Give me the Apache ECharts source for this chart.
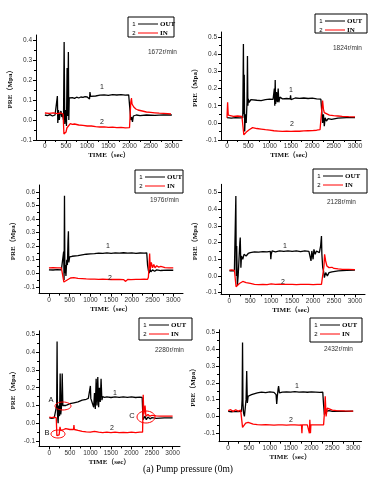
<!DOCTYPE html>
<html>
<head>
<meta charset="utf-8">
<script src="https://cdn.jsdelivr.net/npm/echarts@6/dist/echarts.min.js"></script>
<style>
  html, body { margin: 0; padding: 0; background: #fff; }
  #chart { width: 387px; height: 480px; }
</style>
</head>
<body>
<div id="chart"></div>
<script>
// tick labels
const xTicks = [0, 500, 1000, 1500, 2000, 2500, 3000]
const xMinor = [250, 750, 1250, 1750, 2250, 2750]
const yTicks4 = [-0.1, 0, 0.1, 0.2, 0.3, 0.4]
const yTicks5 = [-0.1, 0, 0.1, 0.2, 0.3, 0.4, 0.5]
const yTicks6 = [-0.1, 0, 0.1, 0.2, 0.3, 0.4, 0.5, 0.6]
const yMinor4 = [-0.05, 0.05, 0.15, 0.25, 0.35]
const yMinor5 = [-0.05, 0.05, 0.15, 0.25, 0.35, 0.45]
const yMinor6 = [-0.05, 0.05, 0.15, 0.25, 0.35, 0.45, 0.55]
const speeds = ['1672r/min', '1824r/min', '1976r/min', '2128r/min', '2280r/min', '2432r/min']

// [time(sec), pressure(Mpa)]
const out1672 = [[0,0.025],[60,0.022],[120,0.027],[180,0.02],[240,0.025],[280,0.018],[295,0.12],[305,-0.015],[320,0.05],[340,0.0],[360,0.03],[380,0.045],[400,0.015],[420,0.03],[440,0.0],[455,0.39],[470,-0.02],[490,0.05],[510,-0.03],[525,0.26],[540,0.02],[555,0.34],[565,0.0],[575,0.11],[600,0.105],[650,0.112],[700,0.108],[750,0.114],[800,0.11],[850,0.115],[900,0.113],[950,0.117],[1000,0.115],[1040,0.12],[1055,0.105],[1065,0.14],[1080,0.118],[1120,0.122],[1200,0.12],[1300,0.124],[1400,0.126],[1500,0.123],[1600,0.127],[1700,0.125],[1800,0.127],[1900,0.124],[1980,0.126],[2020,0.124],[2030,0.0],[2050,0.015],[2070,-0.01],[2090,0.02],[2120,0.01],[2160,0.025],[2250,0.022],[2400,0.025],[2600,0.023],[2800,0.026],[3000,0.025]]
const in1672 = [[0,0.035],[100,0.033],[200,0.036],[300,0.032],[380,0.035],[430,0.03],[450,-0.07],[480,-0.065],[500,-0.06],[520,-0.04],[560,-0.035],[600,-0.018],[650,-0.022],[700,-0.02],[800,-0.025],[900,-0.027],[1000,-0.03],[1100,-0.03],[1200,-0.033],[1300,-0.035],[1400,-0.034],[1500,-0.037],[1600,-0.036],[1700,-0.038],[1800,-0.037],[1900,-0.039],[2000,-0.038],[2020,-0.04],[2030,0.09],[2045,0.11],[2060,0.08],[2100,0.065],[2150,0.055],[2200,0.05],[2300,0.045],[2400,0.04],[2500,0.038],[2600,0.036],[2700,0.034],[2800,0.033],[2900,0.032],[2980,0.03]]

const out1824 = [[0,0.03],[100,0.028],[200,0.03],[300,0.029],[370,0.03],[385,0.46],[395,0.05],[405,0.28],[415,-0.05],[430,0.05],[450,0.0],[470,0.12],[480,0.39],[490,0.1],[500,0.14],[520,0.12],[560,0.135],[600,0.128],[700,0.132],[800,0.13],[900,0.135],[1000,0.138],[1080,0.137],[1110,0.2],[1120,0.1],[1130,0.25],[1140,0.11],[1160,0.18],[1180,0.12],[1200,0.2],[1215,0.12],[1240,0.15],[1300,0.14],[1400,0.142],[1480,0.14],[1490,0.16],[1500,0.135],[1600,0.145],[1700,0.143],[1800,0.145],[1900,0.142],[2000,0.144],[2100,0.14],[2200,0.138],[2220,0.13],[2240,0.0],[2260,0.05],[2280,-0.02],[2300,0.03],[2330,0.01],[2370,0.025],[2450,0.02],[2600,0.028],[2800,0.03],[3000,0.03]]
const in1824 = [[0,0.03],[15,0.12],[30,0.045],[60,0.04],[150,0.038],[250,0.04],[350,0.038],[380,0.035],[395,-0.07],[430,-0.065],[470,-0.05],[520,-0.04],[560,-0.03],[600,-0.028],[700,-0.033],[800,-0.036],[900,-0.04],[1000,-0.043],[1100,-0.046],[1200,-0.048],[1300,-0.05],[1400,-0.049],[1500,-0.05],[1600,-0.048],[1700,-0.049],[1800,-0.047],[1900,-0.046],[2000,-0.045],[2100,-0.043],[2180,-0.04],[2220,-0.035],[2240,0.13],[2260,0.08],[2280,0.06],[2320,0.05],[2400,0.045],[2500,0.042],[2600,0.04],[2700,0.038],[2850,0.036],[3000,0.035]]

const out1976 = [[0,0.025],[100,0.024],[200,0.026],[300,0.025],[340,0.03],[355,0.16],[365,-0.05],[375,0.57],[385,0.0],[395,0.06],[410,-0.02],[430,0.1],[445,0.06],[460,0.24],[470,0.31],[480,0.08],[500,0.12],[530,0.11],[560,0.125],[600,0.12],[700,0.13],[800,0.135],[900,0.14],[1000,0.143],[1100,0.145],[1200,0.148],[1300,0.146],[1400,0.15],[1500,0.147],[1600,0.15],[1700,0.148],[1800,0.151],[1900,0.148],[2000,0.15],[2100,0.147],[2200,0.149],[2300,0.148],[2360,0.15],[2380,0.06],[2400,0.02],[2420,0.0],[2440,0.03],[2460,0.01],[2500,0.025],[2550,0.015],[2600,0.025],[2700,0.02],[2850,0.023],[3000,0.022]]
const in1976 = [[0,0.04],[100,0.041],[200,0.039],[300,0.04],[340,0.038],[360,-0.065],[400,-0.06],[440,-0.05],[480,-0.04],[520,-0.035],[600,-0.033],[700,-0.038],[800,-0.04],[900,-0.042],[1000,-0.043],[1100,-0.044],[1200,-0.045],[1300,-0.044],[1400,-0.045],[1500,-0.046],[1510,-0.06],[1520,-0.045],[1600,-0.046],[1700,-0.045],[1800,-0.047],[1850,-0.06],[1860,-0.046],[1900,-0.046],[1980,-0.047],[2000,-0.055],[2010,-0.046],[2100,-0.045],[2200,-0.045],[2300,-0.044],[2380,-0.045],[2400,-0.03],[2430,0.145],[2445,0.03],[2470,0.08],[2500,0.04],[2530,0.065],[2560,0.04],[2600,0.055],[2650,0.045],[2700,0.05],[2800,0.042],[2900,0.04],[3000,0.04]]

const out2128 = [[0,0.03],[60,0.032],[120,0.03],[140,0.04],[155,0.48],[165,0.0],[175,0.18],[190,-0.06],[210,0.0],[230,0.1],[250,0.2],[260,0.23],[275,0.05],[290,0.12],[320,0.1],[350,0.13],[400,0.12],[450,0.135],[500,0.14],[600,0.145],[700,0.143],[800,0.146],[900,0.145],[980,0.147],[990,0.1],[1000,0.13],[1020,0.15],[1100,0.145],[1200,0.15],[1300,0.147],[1400,0.15],[1500,0.148],[1600,0.15],[1700,0.146],[1800,0.15],[1900,0.148],[1950,0.09],[1970,0.15],[2000,0.1],[2020,0.16],[2050,0.13],[2080,0.15],[2120,0.16],[2150,0.14],[2180,0.18],[2200,0.24],[2210,0.13],[2230,0.05],[2250,0.03],[2270,-0.01],[2300,0.02],[2340,0.0],[2380,0.02],[2450,0.025],[2600,0.03],[2800,0.033],[3000,0.035]]
const in2128 = [[0,0.035],[60,0.036],[120,0.034],[140,0.03],[160,-0.065],[200,-0.06],[240,-0.045],[280,-0.035],[320,-0.033],[400,-0.04],[500,-0.045],[600,-0.05],[700,-0.052],[800,-0.05],[900,-0.052],[1000,-0.048],[1100,-0.05],[1200,-0.049],[1300,-0.05],[1400,-0.051],[1500,-0.05],[1600,-0.052],[1700,-0.05],[1800,-0.051],[1900,-0.05],[2000,-0.052],[2100,-0.05],[2200,-0.05],[2240,-0.045],[2260,0.06],[2275,0.13],[2300,0.09],[2330,0.06],[2380,0.05],[2450,0.052],[2500,0.045],[2600,0.042],[2700,0.04],[2850,0.04],[3000,0.038]]

const out2280 = [[0,0.03],[60,0.028],[120,0.03],[160,0.03],[180,0.1],[190,0.46],[200,0.05],[215,0.0],[230,0.1],[250,0.04],[265,0.28],[280,0.05],[300,0.1],[315,0.28],[330,0.1],[360,0.095],[400,0.1],[450,0.105],[500,0.11],[600,0.115],[700,0.12],[800,0.13],[900,0.135],[950,0.14],[1000,0.21],[1010,0.14],[1050,0.13],[1080,0.09],[1100,0.17],[1120,0.08],[1140,0.25],[1160,0.1],[1180,0.26],[1200,0.09],[1220,0.2],[1240,0.12],[1260,0.25],[1280,0.13],[1300,0.15],[1350,0.145],[1400,0.148],[1500,0.145],[1600,0.148],[1700,0.146],[1800,0.149],[1900,0.146],[2000,0.148],[2100,0.145],[2200,0.147],[2260,0.145],[2280,0.02],[2300,0.01],[2330,0.04],[2360,0.02],[2400,0.035],[2450,0.025],[2500,0.032],[2600,0.028],[2800,0.03],[3000,0.03]]
const in2280 = [[0,0.035],[60,0.032],[120,0.035],[170,0.03],[185,-0.07],[210,-0.06],[240,-0.065],[260,-0.02],[280,-0.04],[300,-0.03],[350,-0.035],[400,-0.03],[500,-0.035],[590,-0.035],[600,-0.01],[610,-0.035],[700,-0.04],[800,-0.045],[900,-0.048],[1000,-0.05],[1100,-0.045],[1200,-0.05],[1300,-0.052],[1400,-0.05],[1500,-0.052],[1600,-0.05],[1700,-0.052],[1800,-0.051],[1900,-0.052],[2000,-0.05],[2100,-0.052],[2200,-0.05],[2270,-0.05],[2285,0.16],[2300,0.05],[2330,0.1],[2350,0.04],[2400,0.05],[2450,0.04],[2500,0.045],[2600,0.042],[2700,0.04],[2850,0.04],[3000,0.04]]

const out2432 = [[0,0.03],[80,0.028],[160,0.03],[240,0.029],[320,0.03],[335,0.1],[345,0.44],[355,0.08],[370,0.02],[390,0.0],[410,0.05],[430,0.1],[445,0.27],[460,0.08],[480,0.12],[520,0.11],[560,0.13],[600,0.135],[700,0.14],[800,0.145],[900,0.142],[1000,0.146],[1100,0.143],[1150,0.13],[1165,0.075],[1180,0.12],[1200,0.165],[1210,0.18],[1230,0.14],[1300,0.145],[1400,0.146],[1500,0.145],[1600,0.147],[1700,0.145],[1800,0.146],[1900,0.144],[2000,0.146],[2100,0.145],[2200,0.143],[2270,0.145],[2290,0.07],[2310,0.01],[2330,0.0],[2350,0.03],[2380,0.02],[2420,0.035],[2500,0.03],[2600,0.032],[2800,0.03],[3000,0.032]]
const in2432 = [[0,0.035],[60,0.04],[120,0.03],[180,0.04],[240,0.032],[300,0.038],[330,0.03],[345,-0.065],[380,-0.06],[420,-0.04],[450,-0.03],[480,-0.035],[520,-0.04],[600,-0.045],[700,-0.048],[800,-0.05],[900,-0.049],[1000,-0.05],[1100,-0.051],[1200,-0.05],[1300,-0.05],[1400,-0.051],[1500,-0.05],[1600,-0.05],[1700,-0.051],[1760,-0.05],[1770,-0.1],[1780,-0.05],[1900,-0.05],[1940,-0.05],[1950,-0.1],[1960,-0.02],[1975,-0.1],[1985,-0.05],[2100,-0.05],[2200,-0.05],[2290,-0.05],[2310,0.02],[2330,0.12],[2350,0.0],[2380,0.05],[2420,0.04],[2500,0.038],[2600,0.035],[2800,0.033],[3000,0.032]]

const outData = [out1672, out1824, out1976, out2128, out2280, out2432]
const inData = [in1672, in1824, in1976, in2128, in2280, in2432]

// panel layout (px) and axis ranges
const panels = [
  {left: 36, top: 35, width: 146, height: 105, xMin: -210, xMax: 3240, yMin: -0.1, yMax: 0.425, yT: yTicks4, yM: yMinor4,
    legend: [128, 17, 46, 20], speed: [148, 52], l1: [102, 87], l2: [102, 122]},
  {left: 221, top: 32, width: 140, height: 108, xMin: -140, xMax: 3140, yMin: -0.1, yMax: 0.53, yT: yTicks5, yM: yMinor5,
    legend: [315, 14, 52, 19], speed: [333, 48], l1: [291, 90], l2: [292, 124]},
  {left: 39, top: 185, width: 144, height: 108.6, xMin: -240, xMax: 3235, yMin: -0.15, yMax: 0.65, yT: yTicks6, yM: yMinor6,
    legend: [135, 170, 48, 23], speed: [150, 200], l1: [108, 246], l2: [110, 278]},
  {left: 221, top: 184.3, width: 144, height: 110, xMin: -200, xMax: 3240, yMin: -0.11, yMax: 0.55, yT: yTicks5, yM: yMinor5,
    legend: [313, 169, 54, 24], speed: [327, 202], l1: [285, 246], l2: [283, 282]},
  {left: 39, top: 330.8, width: 141, height: 115.6, xMin: -250, xMax: 3180, yMin: -0.13, yMax: 0.52, yT: yTicks5, yM: yMinor5,
    legend: [139, 318, 53, 22], speed: [155, 350], l1: [115, 393], l2: [112, 428]},
  {left: 219, top: 329.8, width: 142.5, height: 111.9, xMin: -220, xMax: 3200, yMin: -0.15, yMax: 0.515, yT: yTicks5, yM: yMinor5,
    legend: [310, 318, 52, 24], speed: [324, 349], l1: [297, 386], l2: [291, 420]}
]

const serif = "'Liberation Serif', 'Noto Sans CJK SC', serif"
const sans = "'Liberation Sans', Arial, sans-serif"

const grid = []
const xAxis = []
const yAxis = []
const series = []
const graphic = []

panels.forEach((p, i) => {
  grid.push({left: p.left, top: p.top, width: p.width, height: p.height})
  // main axes
  xAxis.push({
    type: 'value', gridIndex: i, min: p.xMin, max: p.xMax, position: 'bottom',
    name: 'TIME（sec）', nameLocation: 'middle', nameGap: 12,
    nameTextStyle: {fontFamily: serif, fontWeight: 'bold', fontSize: 7, color: '#111'},
    axisLine: {show: true, onZero: false, lineStyle: {color: '#000', width: 1}},
    axisTick: {show: true, length: 3, customValues: xTicks, lineStyle: {color: '#000'}},
    axisLabel: {customValues: xTicks, margin: 3, fontSize: 6.5, fontFamily: sans, color: '#333', formatter: v => String(v)},
    splitLine: {show: false}
  })
  // minor ticks
  xAxis.push({
    type: 'value', gridIndex: i, min: p.xMin, max: p.xMax, position: 'bottom',
    axisLine: {show: false, onZero: false},
    axisTick: {show: true, length: 2, customValues: xMinor, lineStyle: {color: '#000'}},
    axisLabel: {show: false}, splitLine: {show: false}
  })
  yAxis.push({
    type: 'value', gridIndex: i, min: p.yMin, max: p.yMax, position: 'left',
    name: 'PRE（Mpa）', nameLocation: 'middle', nameGap: 22, nameRotate: 90,
    nameTextStyle: {fontFamily: serif, fontWeight: 'bold', fontSize: 7, color: '#111'},
    axisLine: {show: true, onZero: false, lineStyle: {color: '#000', width: 1}},
    axisTick: {show: true, length: 3, customValues: p.yT, lineStyle: {color: '#000'}},
    axisLabel: {customValues: p.yT, margin: 4, fontSize: 6.5, fontFamily: sans, color: '#333', formatter: v => v.toFixed(1)},
    splitLine: {show: false}
  })
  yAxis.push({
    type: 'value', gridIndex: i, min: p.yMin, max: p.yMax, position: 'left',
    axisLine: {show: false, onZero: false},
    axisTick: {show: true, length: 2, customValues: p.yM, lineStyle: {color: '#000'}},
    axisLabel: {show: false}, splitLine: {show: false}
  })

  series.push({
    name: 'OUT', type: 'line', xAxisIndex: 2 * i, yAxisIndex: 2 * i,
    data: outData[i], showSymbol: false, symbol: 'none',
    lineStyle: {color: '#000', width: 1.3}, z: 2
  })
  series.push({
    name: 'IN', type: 'line', xAxisIndex: 2 * i, yAxisIndex: 2 * i,
    data: inData[i], showSymbol: false, symbol: 'none',
    lineStyle: {color: '#f00', width: 1.3}, z: 3
  })

  // legend box
  const [lx, ly, lw, lh] = p.legend
  graphic.push({type: 'rect', shape: {x: lx, y: ly, width: lw, height: lh}, style: {fill: '#fff', stroke: '#000', lineWidth: 1}, z: 10})
  ;[['1', '#000', 'OUT', 7], ['2', '#f00', 'IN', 16]].forEach(([num, c, txt, dy]) => {
    graphic.push({type: 'text', style: {text: num, x: lx + 6, y: ly + dy, font: '6px ' + sans, fill: '#000', textAlign: 'center', textVerticalAlign: 'middle'}, z: 11})
    graphic.push({type: 'line', shape: {x1: lx + 10, y1: ly + dy, x2: lx + 30, y2: ly + dy}, style: {stroke: c, lineWidth: 1}, z: 11})
    graphic.push({type: 'text', style: {text: txt, x: lx + 32, y: ly + dy, font: 'bold 7px ' + serif, fill: '#000', textAlign: 'left', textVerticalAlign: 'middle'}, z: 11})
  })
  // speed
  graphic.push({type: 'text', style: {text: speeds[i], x: p.speed[0], y: p.speed[1], font: '6.5px ' + sans, fill: '#333', textAlign: 'left', textVerticalAlign: 'middle'}, z: 11})
  // curve numbers
  graphic.push({type: 'text', style: {text: '1', x: p.l1[0], y: p.l1[1], font: '7px ' + sans, fill: '#222', textAlign: 'center', textVerticalAlign: 'middle'}, z: 11})
  graphic.push({type: 'text', style: {text: '2', x: p.l2[0], y: p.l2[1], font: '7px ' + sans, fill: '#222', textAlign: 'center', textVerticalAlign: 'middle'}, z: 11})
})

// marked zones in the 2280r/min panel
;[['A', 51, 400, 63, 406, 8, 4], ['B', 47, 433, 58, 434, 7, 4], ['C', 132, 416, 146, 417, 9, 6]].forEach(([t, tx, ty, cx, cy, rx, ry]) => {
  graphic.push({type: 'ellipse', shape: {cx: cx, cy: cy, rx: rx, ry: ry}, style: {fill: 'none', stroke: '#f00', lineWidth: 1}, z: 12})
  graphic.push({type: 'text', style: {text: t, x: tx, y: ty, font: '7.5px ' + sans, fill: '#111', textAlign: 'center', textVerticalAlign: 'middle'}, z: 12})
})

// caption
graphic.push({type: 'text', style: {text: '(a) Pump pressure (0m)', x: 188, y: 469, font: '9.5px ' + serif, fill: '#000', textAlign: 'center', textVerticalAlign: 'middle'}, z: 12})

const myChart = echarts.init(document.getElementById('chart'), null, {renderer: 'canvas'})
myChart.setOption({
  animation: false,
  backgroundColor: '#fff',
  grid: grid,
  xAxis: xAxis,
  yAxis: yAxis,
  series: series,
  graphic: graphic
})
</script>
</body>
</html>
